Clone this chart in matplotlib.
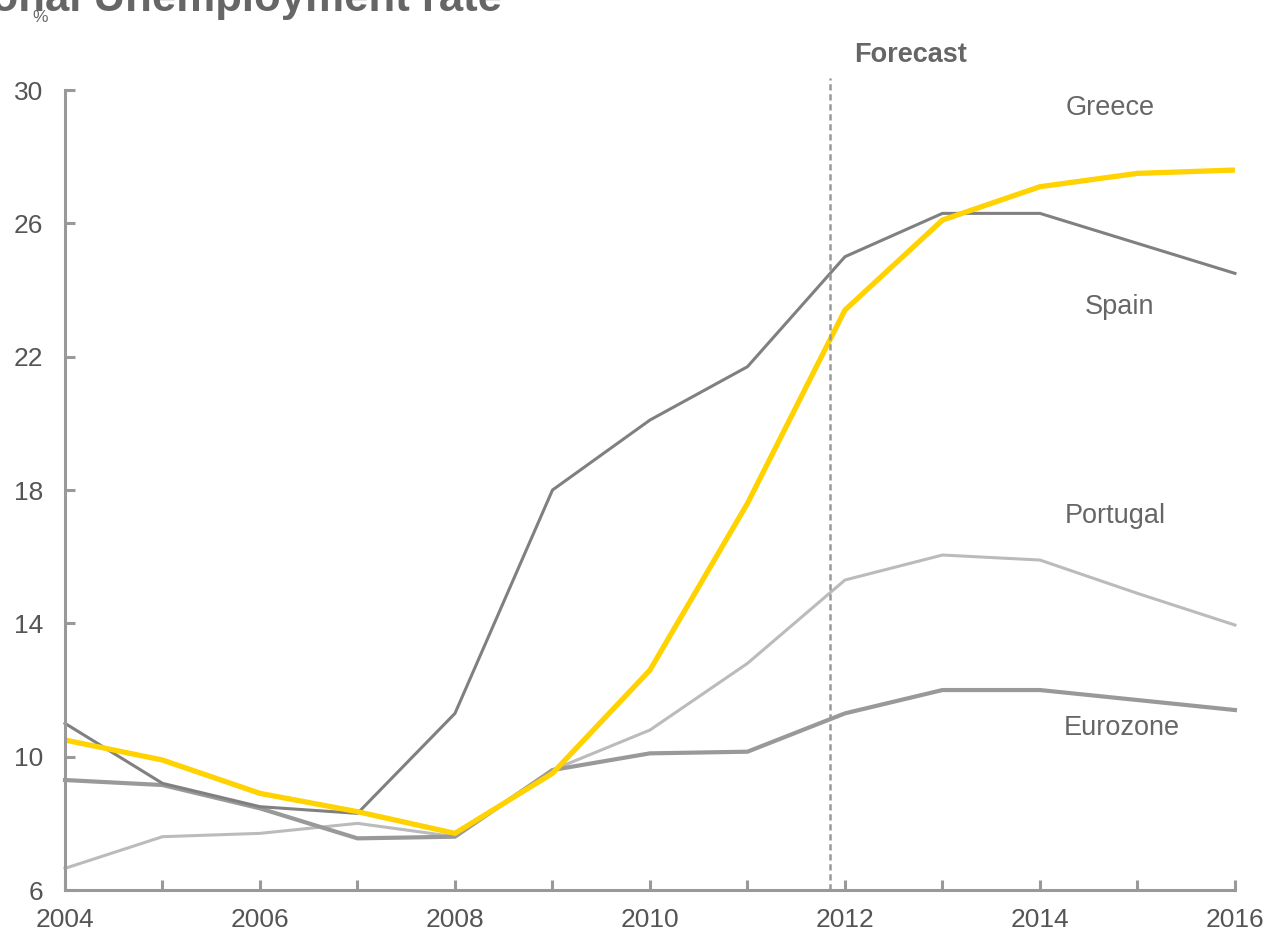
import matplotlib.pyplot as plt

plt.rcParams['font.family'] = ['Liberation Sans', 'DejaVu Sans']

years = list(range(2004, 2017))
greece = [10.5, 9.9, 8.9, 8.35, 7.7, 9.5, 12.6, 17.6, 23.4, 26.1, 27.1, 27.5, 27.6]
spain = [11.0, 9.2, 8.5, 8.3, 11.3, 18.0, 20.1, 21.7, 25.0, 26.3, 26.3, 25.4, 24.5]
portugal = [6.65, 7.6, 7.7, 8.0, 7.6, 9.6, 10.8, 12.8, 15.3, 16.05, 15.9, 14.9, 13.95]
eurozone = [9.3, 9.15, 8.45, 7.55, 7.6, 9.6, 10.1, 10.15, 11.3, 12.0, 12.0, 11.7, 11.4]

xticks = [2004, 2006, 2008, 2010, 2012, 2014, 2016]
yticks = [6, 10, 14, 18, 22, 26, 30]
forecast_x = 2011.85

grid_col = '#999999'
txt_col = '#666666'

fig = plt.figure(figsize=(12.67, 9.35), dpi=100)
ax = fig.add_axes([0.0513, 0.0481, 0.9234, 0.8556])

ax.plot(years, portugal, color='#bbbbbb', lw=2.2, clip_on=False)
ax.plot(years, eurozone, color='#999999', lw=3.0, clip_on=False)
ax.plot(years, spain, color='#808080', lw=2.2, clip_on=False)
ax.plot(years, greece, color='#ffd200', lw=3.8, clip_on=False, solid_capstyle='butt')

# forecast divider
ax.plot([forecast_x, forecast_x], [6, 30.36], color='#999999', lw=1.8,
        ls=(0, (2.5, 1.5)), clip_on=False)

ax.set_xlim(2004, 2016)
ax.set_ylim(6, 30)
ax.set_xticks(years, minor=True)
ax.set_xticks(xticks)
ax.set_xticklabels([str(y) for y in xticks])
ax.set_yticks(yticks)

for s in ['top', 'right']:
    ax.spines[s].set_visible(False)
for s in ['left', 'bottom']:
    ax.spines[s].set_color(grid_col)
    ax.spines[s].set_linewidth(2.2)
ax.tick_params(axis='both', which='both', direction='in', color=grid_col,
               width=2.2, length=7, labelcolor='#555555', labelsize=19)
ax.tick_params(axis='x', which='major', pad=13)
ax.tick_params(axis='y', pad=15.5)

lab = dict(ha='center', va='center', fontsize=19.5, color=txt_col)
ax.text(2014.72, 29.46, 'Greece', **lab)
ax.text(2014.82, 23.49, 'Spain', **lab)
ax.text(2014.77, 17.22, 'Portugal', **lab)
ax.text(2014.84, 10.86, 'Eurozone', **lab)
ax.text(2012.67, 31.05, 'Forecast', fontweight='bold', **lab)

fig.text(40 / 1267, 1 - 17 / 935, '%', ha='center', va='center', fontsize=12.5, color=txt_col)
fig.text(502 / 1267, 1 - 11 / 935, 'National Unemployment rate', ha='right', va='baseline',
         fontsize=31.5, fontweight='bold', color='#666666')

fig.savefig('out.png', dpi=100)
